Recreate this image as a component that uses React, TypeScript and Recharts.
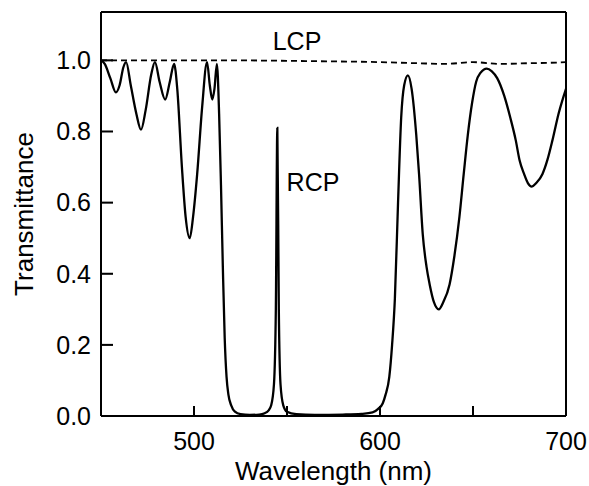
import { ComposedChart, Line, Scatter, XAxis, YAxis, ReferenceLine, Label } from "recharts"

// RCP transmittance spectrum
const rcpWavelength = [
  450, 452, 455, 458, 460, 462, 463.5, 466, 469, 471.5, 474, 477, 479, 481.5, 484.5, 487, 489.3,
  491, 493.5, 495.5, 497.7, 499.5, 501.7, 504.4, 507, 508.5, 509.8, 511, 512.3, 513.5, 514.5,
  515.5, 516.5, 517.5, 518.5, 520, 522, 525, 530, 535, 538, 540, 541.5, 543, 544, 544.8, 545.6,
  546.5, 548, 550, 555, 565, 580, 590, 596, 599, 601.5, 603, 605, 606.5, 608, 609.7, 611.4, 613,
  615, 617, 619.5, 621, 623, 625, 626.7, 629, 631.6, 634, 637.4, 640, 642.7, 645, 647.2, 649.5,
  651.7, 654, 657.4, 660, 663, 666.8, 670, 673, 675, 677.5, 679.5, 681.6, 684, 687.3, 690, 692.7,
  696, 700,
]
const rcpTransmittance = [
  1.0, 0.99, 0.95, 0.91, 0.93, 0.98, 0.995, 0.93, 0.85, 0.805, 0.86, 0.96, 0.995, 0.94, 0.89, 0.94, 0.99,
  0.92, 0.7, 0.56, 0.5, 0.56, 0.68, 0.87, 0.995, 0.93, 0.89, 0.92, 0.99, 0.85, 0.65,
  0.42, 0.22, 0.11, 0.06, 0.03, 0.012, 0.005, 0.003, 0.004, 0.008, 0.015, 0.03, 0.09, 0.3, 0.81, 0.3,
  0.09, 0.03, 0.012, 0.005, 0.003, 0.004, 0.006, 0.01, 0.02, 0.036, 0.06, 0.11, 0.2, 0.33, 0.6, 0.84, 0.93,
  0.958, 0.92, 0.79, 0.68, 0.51, 0.42, 0.37, 0.32, 0.3, 0.32, 0.37, 0.45, 0.56, 0.68, 0.79, 0.88,
  0.94, 0.965, 0.977, 0.97, 0.95, 0.9, 0.84, 0.775, 0.72, 0.68, 0.655, 0.645, 0.655, 0.68, 0.72, 0.775,
  0.85, 0.92,
]

// LCP stays close to 1
const lcpWavelength = [450, 480, 520, 560, 600, 620, 635, 650, 665, 680, 690, 700]
const lcpTransmittance = [1.0, 1.0, 1.0, 0.998, 0.995, 0.992, 0.99, 0.995, 0.99, 0.992, 0.993, 0.995]

const xTicks = [500, 550, 600, 650, 700]
const xTickLabels = ["500", "", "600", "", "700"]
const yTicks = [0, 0.2, 0.4, 0.6, 0.8, 1.0]

const rcpData = rcpWavelength.map((wl, i) => ({ wl, t: rcpTransmittance[i] }))
const lcpData = lcpWavelength.map((wl, i) => ({ wl, t: lcpTransmittance[i] }))

const font = "'Liberation Sans', Arial, sans-serif"
const FS = 25
const X_MIN = 450
const X_MAX = 700
const Y_MAX = 1.136

// tick marks placed through the chart scales, drawn pointing into the plot
const yTickMarks = yTicks.map((t) => ({ wl: X_MIN, t }))
const xTickMarks = xTicks.map((wl) => ({ wl, t: 0 }))

const YMark = (p: any) => (
  <line x1={p.cx} x2={p.cx + 12} y1={p.cy} y2={p.cy} stroke="#000" strokeWidth={2} />
)
const XMark = (p: any) => (
  <line x1={p.cx} x2={p.cx} y1={p.cy} y2={p.cy - 10} stroke="#000" strokeWidth={2} />
)

export default function App() {
  return (
    <div style={{ position: "absolute", left: 0, top: 0 }}>
      <ComposedChart width={589} height={486} data={rcpData} margin={{ top: 12, right: 23, left: 0, bottom: 0 }}>
        <XAxis
          type="number"
          dataKey="wl"
          domain={[X_MIN, X_MAX]}
          ticks={xTicks}
          tickFormatter={(v) => xTickLabels[xTicks.indexOf(v)]}
          height={70}
          tickSize={-10}
          tickMargin={26}
          stroke="#000"
          axisLine={{ stroke: "#000", strokeWidth: 2 }}
          tick={{ fill: "#000", fontSize: FS, fontFamily: font }}
        >
          <Label
            value="Wavelength (nm)"
            position="insideBottom"
            offset={6}
            style={{ fill: "#000", fontSize: FS + 1, fontFamily: font }}
          />
        </XAxis>
        <YAxis
          type="number"
          domain={[0, Y_MAX]}
          ticks={yTicks}
          tickFormatter={(v) => Number(v).toFixed(1)}
          width={101}
          tickSize={-12}
          tickMargin={22}
          stroke="#000"
          axisLine={{ stroke: "#000", strokeWidth: 2 }}
          tick={{ fill: "#000", fontSize: FS, fontFamily: font }}
        >
          <Label
            value="Transmittance"
            angle={-90}
            position="insideLeft"
            offset={24}
            style={{ fill: "#000", fontSize: FS + 1, fontFamily: font, textAnchor: "middle" }}
          />
        </YAxis>
        {/* top and right sides of the frame */}
        <ReferenceLine y={Y_MAX} stroke="#000" strokeWidth={2} />
        <ReferenceLine x={X_MAX} stroke="#000" strokeWidth={2} />
        <Scatter data={yTickMarks} dataKey="t" shape={YMark} isAnimationActive={false} />
        <Scatter data={xTickMarks} dataKey="t" shape={XMark} isAnimationActive={false} />
        <Line
          data={lcpData}
          dataKey="t"
          type="monotone"
          stroke="#000"
          strokeWidth={1.8}
          strokeDasharray="6 4"
          dot={false}
          isAnimationActive={false}
        />
        <Line
          dataKey="t"
          type="monotone"
          stroke="#000"
          strokeWidth={2.3}
          dot={false}
          isAnimationActive={false}
        />
        <text x={297} y={50} textAnchor="middle" fontSize={FS} fontFamily={font} fill="#000">
          LCP
        </text>
        <text x={313} y={191} textAnchor="middle" fontSize={FS} fontFamily={font} fill="#000">
          RCP
        </text>
      </ComposedChart>
    </div>
  )
}
